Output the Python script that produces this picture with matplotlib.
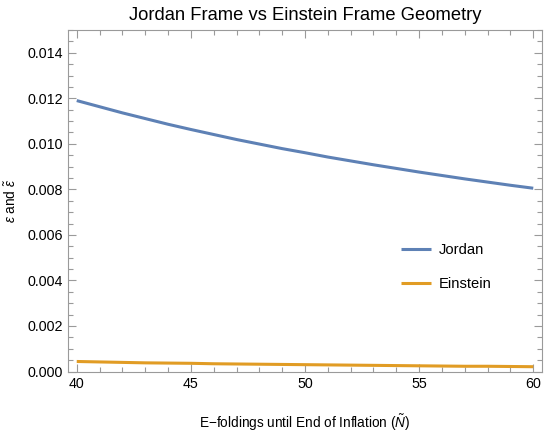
import matplotlib
matplotlib.use("Agg")
import matplotlib.pyplot as plt
from matplotlib.ticker import MultipleLocator, FormatStrFormatter

N_vals = [40, 41, 42, 43, 44, 45, 46, 47, 48, 49, 50,
          51, 52, 53, 54, 55, 56, 57, 58, 59, 60]
jordan = [0.01190, 0.01163, 0.01136, 0.01111, 0.01086, 0.01063, 0.01041,
          0.01019, 0.00999, 0.00979, 0.00961, 0.00942, 0.00925, 0.00908,
          0.00892, 0.00876, 0.00861, 0.00846, 0.00832, 0.00818, 0.00805]
einstein = [0.00044, 0.00042, 0.00040, 0.00038, 0.00037, 0.00036, 0.00034,
            0.00033, 0.00032, 0.00031, 0.00030, 0.00029, 0.00028, 0.00027,
            0.00026, 0.00025, 0.00024, 0.00023, 0.00023, 0.00022, 0.00021]
labels = ["Jordan", "Einstein"]
title = "Jordan Frame vs Einstein Frame Geometry"
xlabel = "E\u2212foldings until End of Inflation ($\\tilde{N}$)"
ylabel = "$\\epsilon$ and $\\tilde{\\epsilon}$"

plt.rcParams['font.family'] = ['Liberation Sans', 'DejaVu Sans']
plt.rcParams['mathtext.fontset'] = 'custom'
plt.rcParams['mathtext.it'] = 'Liberation Sans:italic'
plt.rcParams['mathtext.rm'] = 'Liberation Sans'

fig = plt.figure(figsize=(5.45, 4.36), dpi=100)
ax = fig.add_axes([68.3/545, 1-371.5/436, (541.7-68.3)/545, (371.5-30)/436])

ax.plot(N_vals, jordan, color='#5E81B5', lw=2.2, label=labels[0], solid_capstyle='butt')
ax.plot(N_vals, einstein, color='#E19C24', lw=2.2, label=labels[1], solid_capstyle='butt')

ax.set_xlim(39.63, 60.37)
ax.set_ylim(0, 0.015)
ax.xaxis.set_major_locator(MultipleLocator(5))
ax.xaxis.set_minor_locator(MultipleLocator(1))
ax.yaxis.set_major_locator(MultipleLocator(0.002))
ax.yaxis.set_minor_locator(MultipleLocator(0.0005))
ax.yaxis.set_major_formatter(FormatStrFormatter('%.3f'))

for s in ax.spines.values():
    s.set_color('#9a9a9a')
    s.set_linewidth(0.8)
ax.tick_params(which='both', direction='in', top=True, right=True, color='#9a9a9a', width=0.8,
               labelsize=10.3, labelcolor='black')
ax.tick_params(which='major', length=6, pad=4)
ax.tick_params(which='minor', length=3.5)

ax.set_title(title, fontsize=13.2, pad=7)
ax.set_xlabel(xlabel, fontsize=9.8, labelpad=15)
ax.set_ylabel(ylabel, fontsize=9.8, labelpad=6)

ax.legend(loc='center left', bbox_to_anchor=(0.703, 0.306), frameon=False, fontsize=10.6,
          handlelength=2.04, handletextpad=0.52, labelspacing=1.35,
          borderpad=0, borderaxespad=0)

fig.savefig('out.png', dpi=100)
